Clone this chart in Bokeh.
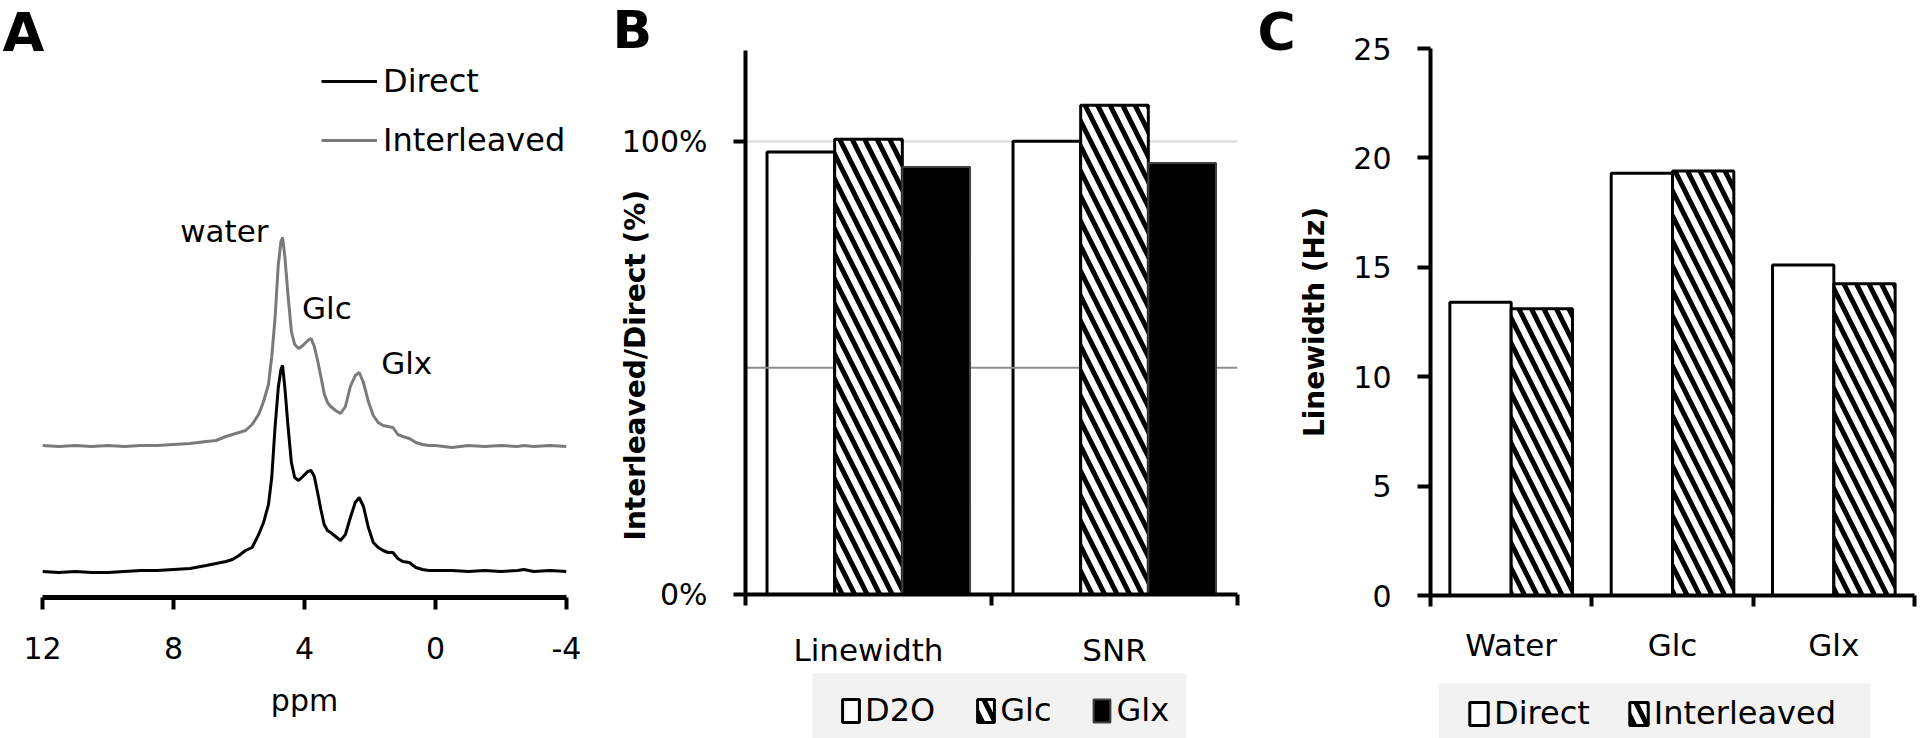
import numpy as np
from bokeh.plotting import figure
from bokeh.models import Range1d, FixedTicker, Legend, LegendItem, Title, BoxAnnotation
from bokeh.layouts import row, column
from bokeh.embed import file_html
from bokeh.resources import INLINE
from bokeh.core.properties import value

FONT = "DejaVu Sans"

# ---------------- Panel A data (spectra) ----------------
ppm = [12.0, 11.5, 11.0, 10.5, 10.0, 9.5, 9.0, 8.5, 8.0, 7.5, 7.0, 6.7, 6.4, 6.2, 6.0, 5.8,
       5.6, 5.4, 5.25, 5.1, 5.0, 4.9, 4.8, 4.72, 4.67, 4.6, 4.5, 4.4, 4.3, 4.18, 4.05, 3.9,
       3.8, 3.7, 3.6, 3.5, 3.4, 3.3, 3.2, 3.05, 2.9, 2.75, 2.6, 2.45, 2.33, 2.2, 2.05, 1.9,
       1.75, 1.6, 1.45, 1.3, 1.15, 1.0, 0.8, 0.6, 0.4, 0.2, 0.0, -0.5, -1.0, -1.5, -2.0,
       -2.5, -2.7, -3.0, -3.5, -4.0]
direct = [1, 0, 1, 0, 0, 1, 2, 2, 3, 4, 7, 9, 11, 13, 17, 22,
          25, 38, 50, 68, 95, 145, 185, 203, 207, 185, 145, 110, 95, 92, 96, 101,
          102, 96, 80, 63, 48, 42, 40, 36, 32, 38, 55, 70, 75, 66, 45, 30,
          25, 22, 20, 20, 14, 11, 10, 5, 3, 2, 2, 2, 1, 2, 1,
          2, 3, 1, 2, 1]
interleaved = [1, 0, 1, 0, 1, 0, 1, 1, 2, 3, 5, 6, 10, 12, 14, 16,
               22, 32, 45, 62, 90, 128, 182, 205, 209, 190, 150, 115, 102, 98, 101, 106,
               108, 100, 86, 70, 53, 44, 40, 36, 33, 40, 60, 71, 74, 64, 45, 31,
               24, 21, 20, 19, 12, 10, 8, 4, 2, 1, 1, -1, 1, 0, 1,
               0, 1, 0, 1, 0]
interleaved_offset = 126
a_ticks = [12, 8, 4, 0, -4]
peak_names = ["water", "Glc", "Glx"]
peak_ppm = [4.67, 3.80, 2.33]

# ---------------- Panel B data ----------------
b_groups = ["Linewidth", "SNR"]
b_series = ["D2O", "Glc", "Glx"]
b_d2o = [97.6, 100.0]
b_glc = [100.4, 107.9]
b_glx = [94.3, 95.2]
b_ticks = [0, 100]
b_tick_labels = ["0%", "100%"]

# ---------------- Panel C data ----------------
c_groups = ["Water", "Glc", "Glx"]
c_series = ["Direct", "Interleaved"]
c_direct = [13.4, 19.3, 15.1]
c_interleaved = [13.1, 19.4, 14.25]
c_ticks = [0, 5, 10, 15, 20, 25]

# bar styles (shared by bars and legend swatches)
STY_WHITE = dict(fill_color="white", line_color="black", line_width=3)
STY_HATCH = dict(fill_color="white", line_color="black", line_width=3, hatch_pattern="\\",
                 hatch_color="black", hatch_scale=25, hatch_weight=5)
STY_BLACK = dict(fill_color="black", line_color="#404040", line_width=2)


def style_axis(ax, size="30px"):
    ax.axis_line_color = "black"
    ax.major_tick_line_color = "black"
    ax.minor_tick_line_color = "black"
    ax.major_label_text_color = "black"
    ax.major_label_text_font = FONT
    ax.major_label_text_font_size = size
    ax.axis_label_text_color = "black"
    ax.axis_label_text_font = FONT


def side_title(text, offset, standoff, size, align="left"):
    return Title(text=text, align=align, offset=offset, standoff=standoff,
                 vertical_align="bottom", text_font=FONT, text_font_size=size,
                 text_font_style="bold", text_color="black")


def legend_strip(width, height, bl, br, styles, labels, loc, glyph_w, spacing, box):
    """A strip under a panel that carries its legend (swatches styled like the bars)."""
    q = figure(width=width, height=height, x_range=Range1d(0, 1), y_range=Range1d(0, 1),
               output_backend="svg", toolbar_location=None, title=None,
               min_border_left=bl, min_border_right=br, min_border_top=0, min_border_bottom=0,
               x_axis_type=None, y_axis_type=None)
    q.outline_line_color = None
    q.grid.visible = False
    # grey legend panel
    q.add_layout(BoxAnnotation(left=box[0], right=box[1], bottom=-0.5, top=box[2],
                               fill_color="#f2f2f2", fill_alpha=1, line_color=None,
                               level="underlay"))
    # swatch carriers: degenerate bars drawn beneath the grey panel
    rs = [q.vbar(x=[0.5], bottom=[0.3], top=[0.3], width=0.01, level="image", **st)
          for st in styles]
    leg = Legend(items=[LegendItem(label=l, renderers=[r]) for l, r in zip(labels, rs)],
                 orientation="horizontal", location=loc, glyph_width=glyph_w, glyph_height=29,
                 label_standoff=4, spacing=spacing, padding=3, margin=0,
                 border_line_color=None, background_fill_alpha=0,
                 label_text_font=FONT, label_text_font_size="32px",
                 label_text_color="black")
    q.add_layout(leg)
    return q


# ================= Panel A =================
pA = figure(width=588, height=738, x_range=Range1d(12, -4), y_range=Range1d(-25, 522),
            output_backend="svg", toolbar_location=None, title=None,
            min_border_left=42, min_border_right=22, min_border_top=50, min_border_bottom=141)
pA.outline_line_color = None
pA.grid.visible = False
pA.yaxis.visible = False

rD = pA.line(ppm, direct, line_color="black", line_width=3)
rI = pA.line(ppm, [v + interleaved_offset for v in interleaved], line_color="#7a7a7a", line_width=3)

axA = pA.xaxis[0]
style_axis(axA, "30px")
axA.ticker = FixedTicker(ticks=a_ticks)
axA.major_label_overrides = {t: str(t) for t in a_ticks}
axA.axis_line_width = 5
axA.major_tick_line_width = 4
axA.major_tick_out = 12
axA.major_tick_in = 0
axA.minor_tick_out = 0
axA.minor_tick_in = 0
axA.major_label_standoff = 27
axA.axis_label = "ppm"
axA.axis_label_text_font_size = "30px"
axA.axis_label_text_font_style = "normal"
axA.axis_label_standoff = 21

legA = Legend(items=[LegendItem(label="Direct", renderers=[rD]),
                     LegendItem(label="Interleaved", renderers=[rI])],
              location=(279, 438), glyph_width=56, glyph_height=20, label_standoff=6,
              spacing=21, padding=0, margin=0, border_line_color=None,
              background_fill_alpha=0, label_text_font=FONT, label_text_font_size="32px",
              label_text_color="black")
pA.add_layout(legA)

idx = [ppm.index(p) for p in peak_ppm]
lab_y = [interleaved[i] + interleaved_offset for i in idx]
pA.text(x=peak_ppm[:1], y=lab_y[:1], text=peak_names[:1], x_offset=-14, y_offset=-7,
        text_align="right", text_baseline="alphabetic", text_font=value(FONT),
        text_font_size="31px", text_color="black")
pA.text(x=peak_ppm[1:], y=lab_y[1:], text=peak_names[1:], x_offset=[-9, 22], y_offset=[-31, -10],
        text_align="left", text_baseline="alphabetic", text_font=value(FONT),
        text_font_size="31px", text_color="black")

pA.add_layout(side_title("A", -40, -27, "54px"), "above")

# ================= Panel B =================
pB = figure(width=707, height=670, x_range=Range1d(0.5, 2.5), y_range=Range1d(0, 120),
            output_backend="svg", toolbar_location=None, title=None,
            min_border_left=157, min_border_right=58, min_border_top=50, min_border_bottom=73)
pB.outline_line_color = None
pB.xgrid.visible = False
pB.ygrid.ticker = FixedTicker(ticks=[100])
pB.ygrid.grid_line_color = "#d9d9d9"
pB.ygrid.grid_line_width = 2

xb = [i + 1 for i in range(len(b_groups))]
bw = 0.275
pB.vbar(x=[x - bw for x in xb], top=b_d2o, width=bw, **STY_WHITE)
pB.segment(x0=[0.5], x1=[2.5], y0=[50], y1=[50], line_color="#8c8c8c", line_width=2)
pB.vbar(x=xb, top=b_glc, width=bw, **STY_HATCH)
pB.vbar(x=[x + bw for x in xb], top=b_glx, width=bw, **STY_BLACK)

axBy = pB.yaxis[0]
style_axis(axBy, "30px")
axBy.ticker = FixedTicker(ticks=b_ticks)
axBy.major_label_overrides = dict(zip(b_ticks, b_tick_labels))
axBy.axis_line_width = 4
axBy.major_tick_line_width = 4
axBy.major_tick_out = 12
axBy.major_tick_in = 0
axBy.minor_tick_out = 0
axBy.minor_tick_in = 0
axBy.major_label_standoff = 26

axBx = pB.xaxis[0]
style_axis(axBx, "31px")
axBx.ticker = FixedTicker(ticks=xb, minor_ticks=[0.5, 1.5, 2.5])
axBx.major_label_overrides = dict(zip(xb, b_groups))
axBx.axis_line_width = 4
axBx.major_tick_out = 0
axBx.major_tick_in = 0
axBx.minor_tick_out = 11
axBx.minor_tick_in = 0
axBx.minor_tick_line_width = 4
axBx.major_label_standoff = 26

# panel letters B and C (C sits left of panel C's canvas, so it is carried here)
pB.add_layout(side_title("B", -133, -19, "52px"), "above")
pB.add_layout(side_title("C", 512, -108, "52px"), "above")
pB.add_layout(side_title("Interleaved/Direct (%)", 54, -66, "28px"), "left")

legB = legend_strip(707, 68, 157, 58, [STY_WHITE, STY_HATCH, STY_BLACK], b_series,
                    (95, 9), 21, 40, (0.136, 0.896, 0.956))

# ================= Panel C =================
pC = figure(width=625, height=670, x_range=Range1d(0.5, 3.5), y_range=Range1d(0, 25),
            output_backend="svg", toolbar_location=None, title=None,
            min_border_left=129, min_border_right=6, min_border_top=48, min_border_bottom=75)
pC.outline_line_color = None
pC.grid.visible = False

xc = [i + 1 for i in range(len(c_groups))]
cw = 0.38
pC.vbar(x=[x - cw / 2 for x in xc], top=c_direct, width=cw, **STY_WHITE)
pC.vbar(x=[x + cw / 2 for x in xc], top=c_interleaved, width=cw, **STY_HATCH)

axCy = pC.yaxis[0]
style_axis(axCy, "30px")
axCy.ticker = FixedTicker(ticks=c_ticks)
axCy.axis_line_width = 4
axCy.major_tick_line_width = 4
axCy.major_tick_out = 13
axCy.major_tick_in = 0
axCy.minor_tick_out = 0
axCy.minor_tick_in = 0
axCy.major_label_standoff = 26
axCy.axis_label = "Linewidth (Hz)"
axCy.axis_label_text_font_size = "28px"
axCy.axis_label_text_font_style = "bold"
axCy.axis_label_standoff = 19

axCx = pC.xaxis[0]
style_axis(axCx, "31px")
axCx.ticker = FixedTicker(ticks=xc, minor_ticks=[0.5, 1.5, 2.5, 3.5])
axCx.major_label_overrides = dict(zip(xc, c_groups))
axCx.axis_line_width = 4
axCx.major_tick_out = 0
axCx.major_tick_in = 0
axCx.minor_tick_out = 11
axCx.minor_tick_in = 0
axCx.minor_tick_line_width = 4
axCx.major_label_standoff = 20

legC = legend_strip(625, 68, 129, 6, [STY_WHITE, STY_HATCH], c_series,
                    (37, 6), 23, 37, (0.018, 0.908, 0.809))

layout = row(pA, column(pB, legB), column(pC, legC))
open("out.html", "w").write(file_html(layout, INLINE))
